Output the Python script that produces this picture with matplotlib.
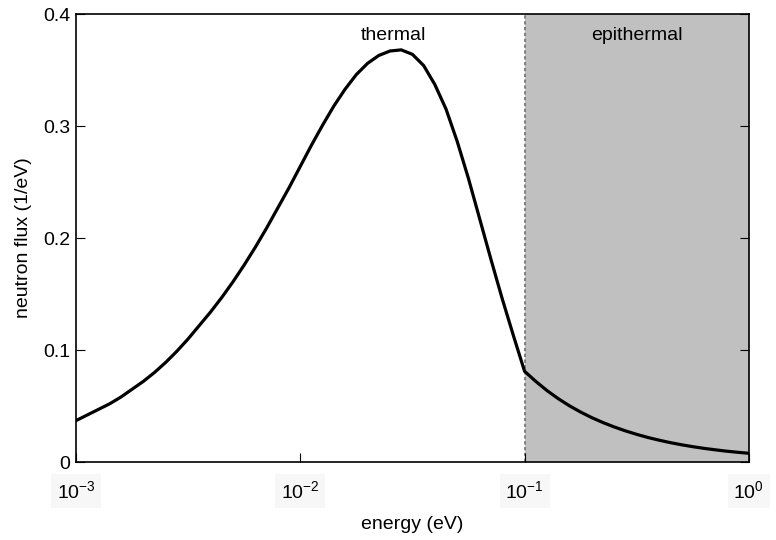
import numpy as np
import matplotlib
matplotlib.use('Agg')
import matplotlib.pyplot as plt

plt.rcParams['font.family'] = ['Liberation Sans', 'DejaVu Sans']
plt.rcParams['mathtext.default'] = 'regular'

# log10 of energy (eV) and flux
log_energy = [-3.00, -2.95, -2.90, -2.85, -2.80, -2.75, -2.70, -2.65, -2.60, -2.55,
              -2.50, -2.45, -2.40, -2.35, -2.30, -2.25, -2.20, -2.15, -2.10, -2.05,
              -2.00, -1.95, -1.90, -1.85, -1.80, -1.75, -1.70, -1.65, -1.60, -1.55,
              -1.50, -1.45, -1.40, -1.35, -1.30, -1.25, -1.20, -1.15, -1.10, -1.05,
              -1.00, -0.95, -0.90, -0.85, -0.80, -0.75, -0.70, -0.65, -0.60, -0.55,
              -0.50, -0.45, -0.40, -0.35, -0.30, -0.25, -0.20, -0.15, -0.10, -0.05,
              0.00]
flux = [0.037, 0.042, 0.047, 0.052, 0.058, 0.065, 0.072, 0.080, 0.089, 0.099,
        0.110, 0.122, 0.134, 0.147, 0.161, 0.176, 0.192, 0.209, 0.227, 0.245,
        0.264, 0.283, 0.301, 0.318, 0.333, 0.346, 0.356, 0.363, 0.367, 0.368,
        0.364, 0.354, 0.337, 0.315, 0.286, 0.253, 0.217, 0.181, 0.146, 0.113,
        0.081, 0.0720, 0.0638, 0.0566, 0.0502, 0.0446, 0.0396, 0.0352, 0.0313, 0.0278,
        0.0247, 0.0219, 0.0195, 0.0173, 0.0154, 0.0137, 0.0122, 0.0109, 0.0097, 0.0087,
        0.0078]

region_labels = ['thermal', 'epithermal']
region_label_x = [0.0259, 0.317]
boundary = 0.1

energy = 10 ** np.array(log_energy)

fig = plt.figure(figsize=(7.76, 5.40), dpi=100)
ax = fig.add_axes([0.098, 0.1444, 0.867, 0.8296])

# epithermal region
ax.axvspan(boundary, 1, color='#c0c0c0', lw=0, zorder=0)
ax.axvline(boundary, color='#707070', lw=1.2, ls=(0, (2, 1.5)), zorder=1)

ax.plot(energy, flux, color='black', lw=2.3, zorder=3,
        solid_joinstyle='round')

ax.set_xscale('log')
ax.set_xlim(1e-3, 1)
ax.set_ylim(0, 0.4)
ax.set_xticks([1e-3, 1e-2, 1e-1, 1])
ax.set_yticks([0, 0.1, 0.2, 0.3, 0.4])
ax.set_yticklabels(['0', '0.1', '0.2', '0.3', '0.4'])
ax.minorticks_off()

ax.tick_params(axis='both', direction='in', length=6.5, width=0.8,
               labelsize=14, colors='black')
ax.tick_params(axis='x', pad=13)
ax.tick_params(axis='y', pad=4, right=True)
for lbl in ax.get_xticklabels():
    lbl.set_bbox(dict(facecolor='#f7f7f7', edgecolor='none', pad=4))

for s in ax.spines.values():
    s.set_linewidth(1.2)

for txt, xpos in zip(region_labels, region_label_x):
    ax.text(xpos, 0.381, txt, ha='center', va='center', fontsize=14)

ax.set_xlabel('energy (eV)', fontsize=14, labelpad=10)
ax.set_ylabel('neutron flux (1/eV)', fontsize=14, labelpad=8)

plt.savefig('out.png', dpi=100)
